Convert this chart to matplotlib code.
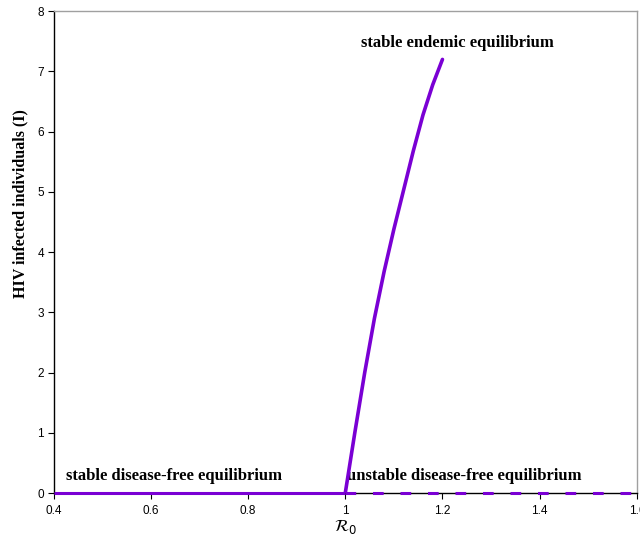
import matplotlib
matplotlib.use("Agg")
import matplotlib.pyplot as plt

# Data
r0_endemic = [1.0, 1.02, 1.04, 1.06, 1.08, 1.10, 1.12, 1.14, 1.16, 1.18, 1.2]
i_endemic = [0.0, 1.02, 2.0, 2.9, 3.68, 4.38, 5.03, 5.68, 6.28, 6.78, 7.2]
r0_stable_dfe = [0.4, 1.0]
i_stable_dfe = [0.0, 0.0]
r0_unstable_dfe = [1.0, 1.6]
i_unstable_dfe = [0.0, 0.0]
x_ticks = [0.4, 0.6, 0.8, 1.0, 1.2, 1.4, 1.6]
x_tick_labels = ["0.4", "0.6", "0.8", "1", "1.2", "1.4", "1.6"]
y_ticks = [0, 1, 2, 3, 4, 5, 6, 7, 8]

color = "#7A00D4"

fig = plt.figure(figsize=(6.4, 5.35), dpi=100)
ax = fig.add_axes([0.084, 0.0785, 0.911, 0.9005])

ax.plot(r0_stable_dfe, i_stable_dfe, color=color, lw=2.2, solid_capstyle="butt", clip_on=False, zorder=3)
ax.plot(r0_unstable_dfe, i_unstable_dfe, color=color, lw=2.2, linestyle=(0, (3.5, 5.5)), clip_on=False, zorder=3)
ax.plot(r0_endemic, i_endemic, color=color, lw=2.6, solid_capstyle="round",
        solid_joinstyle="round", zorder=4)

ax.set_xlim(0.4, 1.6)
ax.set_ylim(0, 8)
ax.set_xticks(x_ticks)
ax.set_xticklabels(x_tick_labels)
ax.set_yticks(y_ticks)

for lab in ax.get_xticklabels() + ax.get_yticklabels():
    lab.set_fontfamily("Liberation Sans")
    lab.set_fontsize(8.5)

ax.tick_params(axis="both", direction="out", length=4, width=0.8, colors="black", pad=3)
ax.tick_params(axis="x", pad=4.5)

ax.spines["left"].set_color("black")
ax.spines["bottom"].set_color("black")
ax.spines["top"].set_color("#a0a0a0")
ax.spines["right"].set_color("#a0a0a0")
for s in ax.spines.values():
    s.set_linewidth(1.0)

ax.set_xlabel(r"$\mathcal{R}_0$", fontsize=12)
ax.xaxis.set_label_coords(0.5, -0.049)
ax.set_ylabel("HIV infected individuals (I)", fontsize=11.5, fontweight="bold",
              fontfamily="Liberation Serif")
ax.yaxis.set_label_coords(-0.044, 0.60)

txt_kw = dict(fontsize=12, fontweight="bold", fontfamily="Liberation Serif", va="center", ha="left")
ax.text(1.033, 7.47, "stable endemic equilibrium", **txt_kw)
ax.text(0.425, 0.28, "stable disease-free equilibrium", **txt_kw)
ax.text(1.003, 0.28, "unstable disease-free equilibrium", **txt_kw)

fig.savefig("out.png", dpi=100)
